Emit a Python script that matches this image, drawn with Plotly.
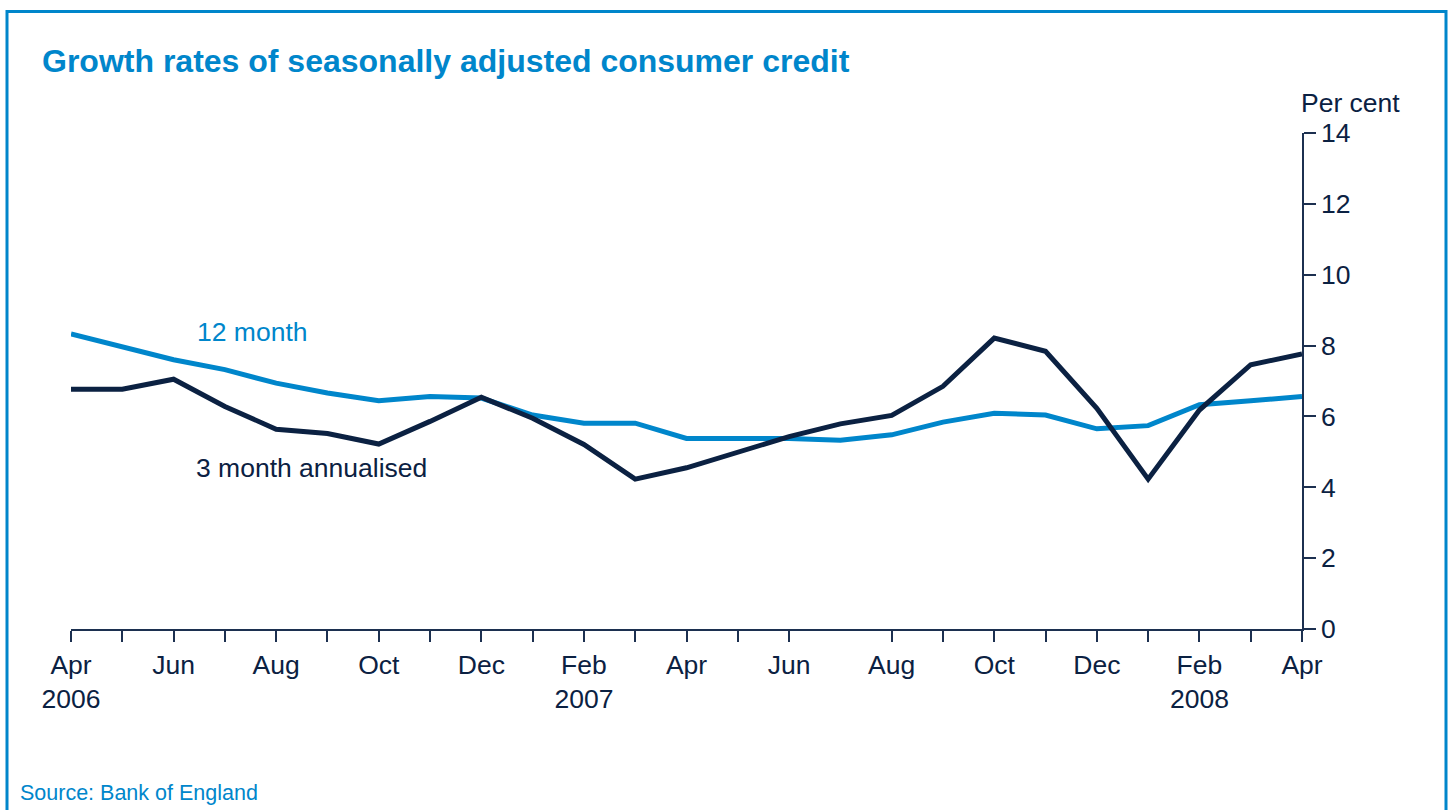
import plotly.graph_objects as go

months = ["Apr", "May", "Jun", "Jul", "Aug", "Sep", "Oct", "Nov", "Dec", "Jan", "Feb", "Mar",
          "Apr", "May", "Jun", "Jul", "Aug", "Sep", "Oct", "Nov", "Dec", "Jan", "Feb", "Mar", "Apr"]
years = {0: "2006", 10: "2007", 22: "2008"}

twelve_month = [8.33, 7.98, 7.60, 7.32, 6.94, 6.66, 6.44, 6.56, 6.52, 6.04, 5.81, 5.81,
                5.38, 5.38, 5.38, 5.33, 5.48, 5.84, 6.09, 6.04, 5.65, 5.74, 6.33, 6.44, 6.56]
three_month = [6.77, 6.77, 7.05, 6.28, 5.64, 5.52, 5.22, 5.86, 6.54, 5.95, 5.21, 4.23,
               4.55, 5.00, 5.43, 5.79, 6.03, 6.85, 8.21, 7.84, 6.23, 4.23, 6.18, 7.46, 7.76]

y_ticks = [0, 2, 4, 6, 8, 10, 12, 14]

LIGHT = "#0086CB"
DARK = "#0B2142"
AXIS = "#1C3050"
FONT = "Liberation Sans"
FS = 26.5

x = list(range(len(months)))

fig = go.Figure()
fig.add_trace(go.Scatter(x=x, y=twelve_month, mode="lines",
                         line=dict(color=LIGHT, width=5), name="12 month"))
fig.add_trace(go.Scatter(x=x, y=three_month, mode="lines",
                         line=dict(color=DARK, width=5), name="3 month annualised"))

# tick positions (the original omits the tick for Jul 2007)
tickvals = [i for i in x if i != 15]
ticktext = []
for i in tickvals:
    if i % 2 == 0:
        t = months[i]
        if i in years:
            t += "<br>" + years[i]
        ticktext.append(t)
    else:
        ticktext.append("")

fig.update_layout(
    width=1453, height=810,
    margin=dict(l=71, r=151, t=133, b=181, pad=0),
    plot_bgcolor="white", paper_bgcolor="white",
    showlegend=False,
    font=dict(family=FONT, size=FS, color=DARK),
    title=dict(text="<b>Growth rates of seasonally adjusted consumer credit</b>",
               x=42 / 1453, xref="container", xanchor="left",
               y=1 - 61 / 810, yref="container", yanchor="middle",
               font=dict(family=FONT, size=32, color=LIGHT)),
    xaxis=dict(range=[0, 24], tickvals=tickvals, ticktext=ticktext,
               showline=True, linecolor=AXIS, linewidth=1.5,
               ticks="outside", ticklen=11, tickwidth=1.5, tickcolor=AXIS,
               showgrid=False, zeroline=False, tickangle=0,
               tickfont=dict(family=FONT, size=FS, color=DARK)),
    yaxis=dict(range=[0, 14], tickvals=y_ticks, side="right",
               showline=True, linecolor=AXIS, linewidth=1.5,
               ticks="outside", ticklen=12, tickwidth=1.5, tickcolor=AXIS,
               showgrid=False, zeroline=False,
               tickfont=dict(family=FONT, size=FS, color=DARK)),
)

fig.add_annotation(text="Per cent", xref="paper", yref="paper", x=1, y=(629 - 103) / 496,
                   xanchor="left", yanchor="middle", showarrow=False, xshift=-3,
                   font=dict(family=FONT, size=FS, color=DARK))
fig.add_annotation(text="12 month", xref="x", yref="y", x=2.42, y=8.38,
                   xanchor="left", yanchor="middle", showarrow=False,
                   font=dict(family=FONT, size=FS, color=LIGHT))
fig.add_annotation(text="3 month annualised", xref="x", yref="y", x=2.40, y=4.54,
                   xanchor="left", yanchor="middle", showarrow=False,
                   font=dict(family=FONT, size=FS, color=DARK))
fig.add_annotation(text="Source: Bank of England", xref="paper", yref="paper",
                   x=(18 - 71) / 1231, y=(629 - 793) / 496,
                   xanchor="left", yanchor="middle", showarrow=False,
                   font=dict(family=FONT, size=21.5, color=LIGHT))

# blue frame around the exhibit (open at the bottom)
px = lambda v: (v - 71) / 1231
py = lambda v: (629 - v) / 496
fig.add_shape(type="path", xref="paper", yref="paper",
              path=f"M {px(7)} {py(830)} L {px(7)} {py(11.5)} L {px(1446)} {py(11.5)} L {px(1446)} {py(830)}",
              line=dict(color=LIGHT, width=3), layer="above")

fig.write_html("out.html")
